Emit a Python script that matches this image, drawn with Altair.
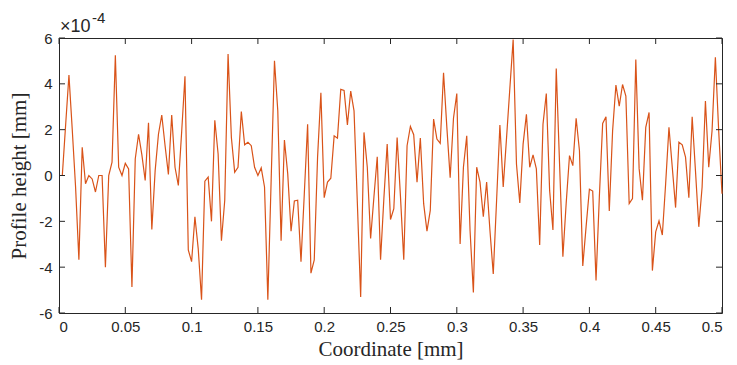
import altair as alt
import pandas as pd

# Profile heights in units of 1e-4 mm, sampled every 0.0025 mm from 0 to 0.5 mm
heights = [
    0, 0, 2.2, 4.38, 2.0, -0.5, -3.68, 1.23, -0.36, 0,
    -0.15, -0.72, 0, 0, -4.0, 0, 0.58, 5.25, 0.36, 0,
    0.53, 0.29, -4.87, 0.72, 1.8, 0.9, -0.22, 2.3, -2.36, 0.2,
    1.8, 2.64, 1.3, 0.05, 2.64, 0.36, -0.43, 1.9, 4.33, -3.25,
    -3.76, -1.8, -3.2, -5.42, -0.25, -0.07, -2.0, 2.41, 0.94, -2.85,
    -1.08, 5.3, 1.66, 0.14, 0.36, 2.79, 1.34, 1.45, 1.3, 0.36,
    0, 0.33, -0.5, -5.42, -0.2, 5.01, 2.82, -2.85, 1.55, 0.07,
    -2.43, -1.11, -1.08, -3.76, -0.8, 2.24, -4.26, -3.68, 0.8, 3.61,
    -0.97, -0.29, -0.12, 1.73, 1.63, 3.76, 3.71, 2.21, 3.68, 2.82,
    -1.2, -5.3, 1.88, 0.36, -2.75, -0.94, 0.82, -3.68, -1.0, 1.37,
    -1.92, -1.45, 1.66, -0.9, -3.68, 1.3, 2.14, 1.78, -0.29, 1.63,
    -1.23, -2.43, -1.52, 2.46, 1.59, 1.4, 4.48, 2.1, -0.1, 2.5,
    3.58, -2.99, 0.36, 1.73, -2.4, -5.1, 0.36, -0.29, -1.8, -0.29,
    -2.4, -4.3, -1.1, 2.2, -0.5, 1.63, 3.8, 5.93, 0.5, -1.2,
    1.37, 2.67, 0.36, 0.9, 0.29, -3.03, 2.24, 3.58, -0.65, -2.38,
    4.67, 0.5, -3.54, -1.2, 0.87, 0.43, 2.5, 1.08, -3.95, -2.24,
    -0.6, -0.68, -4.58, -0.94, 2.27, 2.56, -1.55, 1.95, 3.95, 3.03,
    3.97, 3.47, -1.23, -1.01, 5.06, 0.3, -1.08, 2.1, 2.75, -4.15,
    -2.46, -1.98, -2.6, -0.36, 2.1, 0.36, -1.4, 1.45, 1.34, 0.8,
    -0.97, 2.56, 0.2, -2.24, -0.5, 3.25, 0.36, 1.95, 5.16, 1.95,
    -0.8,
]
x_step = 0.0025
coords = [round(i * x_step, 4) for i in range(len(heights))]

x_ticks = [0, 0.05, 0.1, 0.15, 0.2, 0.25, 0.3, 0.35, 0.4, 0.45, 0.5]
y_ticks = [-6, -4, -2, 0, 2, 4, 6]
exponent_base = ["×10"]
exponent_power = ["-4"]

W, H = 663, 275
TL = 6  # inward tick length
AX = "#262626"
LINE = "#D95319"

df = pd.DataFrame({"coord": coords, "height": heights})
xt = pd.DataFrame({"v": x_ticks})
yt = pd.DataFrame({"v": y_ticks})

xs = alt.Scale(domain=[0, 0.5], nice=False, zero=False)
ys = alt.Scale(domain=[-6, 6], nice=False, zero=False)

label_font = "Liberation Sans"
title_font = "Liberation Serif"

line = alt.Chart(df).mark_line(color=LINE, strokeWidth=1.2).encode(
    x=alt.X("coord:Q", scale=xs, axis=alt.Axis(
        title="Coordinate [mm]", values=x_ticks, ticks=False, tickSize=0,
        domain=False, grid=False, labelExpr="format(datum.value, '.2~f')",
        labelFont=label_font, labelFontSize=15, labelColor=AX, labelPadding=6,
        titleFont=title_font, titleFontSize=21, titleFontWeight="normal",
        titleColor=AX, titlePadding=4)),
    y=alt.Y("height:Q", scale=ys, axis=alt.Axis(
        title="Profile height [mm]", values=y_ticks, ticks=False, tickSize=0,
        domain=False, grid=False, labelExpr="toString(datum.value)",
        labelFont=label_font, labelFontSize=15, labelColor=AX, labelPadding=7,
        titleFont=title_font, titleFontSize=21, titleFontWeight="normal",
        titleColor=AX, titlePadding=9)),
)

rule_style = dict(color=AX, strokeWidth=1)
xtick_bottom = alt.Chart(xt).mark_rule(**rule_style).encode(
    x=alt.X("v:Q", scale=xs), y=alt.value(H), y2=alt.value(H - TL))
xtick_top = alt.Chart(xt).mark_rule(**rule_style).encode(
    x=alt.X("v:Q", scale=xs), y=alt.value(0), y2=alt.value(TL))
ytick_left = alt.Chart(yt).mark_rule(**rule_style).encode(
    y=alt.Y("v:Q", scale=ys), x=alt.value(0), x2=alt.value(TL))
ytick_right = alt.Chart(yt).mark_rule(**rule_style).encode(
    y=alt.Y("v:Q", scale=ys), x=alt.value(W - TL), x2=alt.value(W))

exp_base = alt.Chart(pd.DataFrame({"t": exponent_base})).mark_text(
    align="left", baseline="alphabetic", font=label_font, fontSize=18, color=AX
).encode(x=alt.value(1), y=alt.value(-6), text="t:N")
exp_pow = alt.Chart(pd.DataFrame({"t": exponent_power})).mark_text(
    align="left", baseline="alphabetic", font=label_font, fontSize=15, color=AX
).encode(x=alt.value(33), y=alt.value(-15), text="t:N")

chart = alt.layer(
    line, xtick_bottom, xtick_top, ytick_left, ytick_right, exp_base, exp_pow
).properties(
    width=W, height=H,
    autosize=alt.AutoSizeParams(type="none"),
    padding={"left": 59, "top": 38, "right": 15, "bottom": 52},
    background="white",
).configure_view(stroke=AX, strokeWidth=1)

chart.save("out.html", embed_options={"renderer": "svg", "actions": False})
